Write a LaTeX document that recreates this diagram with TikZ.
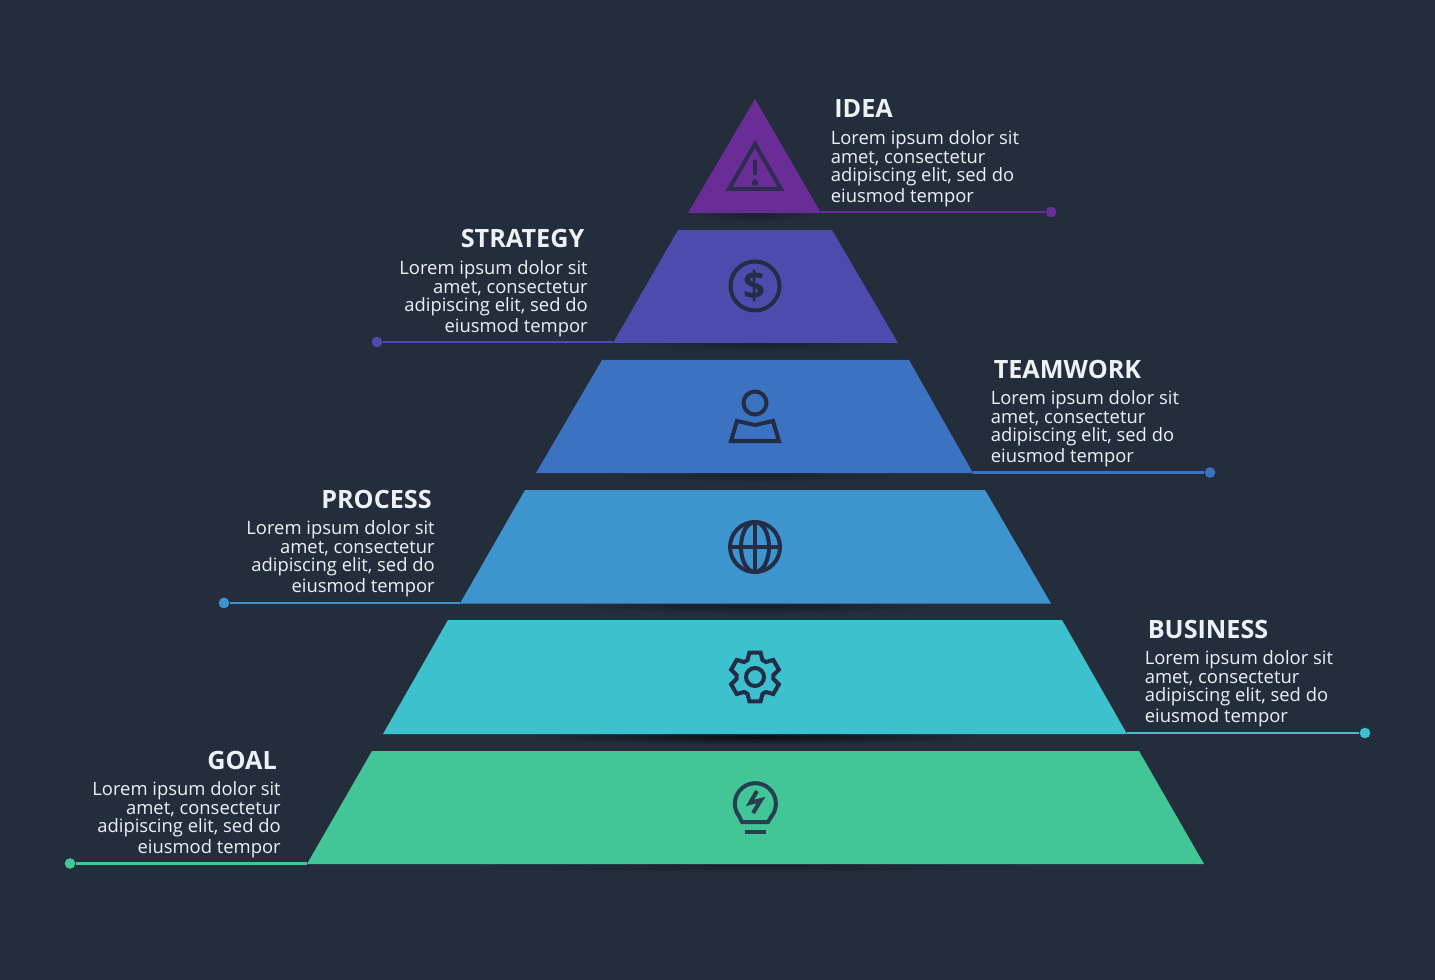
\documentclass[tikz,border=0pt]{standalone}
\usepackage{fontspec}
\setmainfont{Open Sans}
\definecolor{bgc}{HTML}{232D3C}
\definecolor{iconc}{HTML}{232D45}
\definecolor{txtc}{HTML}{EEF1F5}
\definecolor{c1}{HTML}{6A2D98}
\definecolor{c2}{HTML}{4E4BAE}
\definecolor{c3}{HTML}{3B72C2}
\definecolor{c4}{HTML}{3E94CE}
\definecolor{c5}{HTML}{3DC1CF}
\definecolor{c6}{HTML}{42C597}
\tikzset{
  x=0.75pt,y=-0.75pt,
  ttl/.style={text=txtc,inner sep=0pt,font=\fontsize{18.9pt}{22pt}\selectfont\bfseries},
  bodyl/.style={text=txtc,inner sep=0pt,align=left,anchor=north west,font=\fontsize{13.8pt}{13.8pt}\selectfont},
  bodyr/.style={text=txtc,inner sep=0pt,align=right,anchor=north east,font=\fontsize{13.8pt}{13.8pt}\selectfont},
  dotn/.style={circle,inner sep=0pt,minimum size=8pt},
  linkl/.style={line width=2.2pt},
  icon/.style={draw=#1,line width=3pt,line join=miter},
  sh/.style={inner color=black!75!bgc,outer color=bgc,draw=none},
}
\newcommand{\lorem}{Lorem ipsum dolor sit\\amet, consectetur\\adipiscing elit, sed do\\[2.2pt]eiusmod tempor}
\begin{document}
\begin{tikzpicture}
\fill[bgc] (0,0) rectangle (1435,980);
\useasboundingbox (0,0) rectangle (1435,980);
% soft shadows
\foreach \y/\w/\a in {221/60/0.35,351/120/0.3,481/150/0.3,612/190/0.45,743/230/0.9,872/280/0.35}{
  \begin{scope}
  \clip (0,\y-9) rectangle (1435,\y+9);
  \shade[sh,opacity=\a] (755,\y-6) ellipse [x radius=\w,y radius=7];
  \end{scope}
}
% layers
\coordinate (i1) at (821,213);
\coordinate (s1) at (613,343);
\coordinate (t1) at (973,473);
\coordinate (p1) at (460,603.5);
\coordinate (b1) at (1127,734);
\coordinate (g1) at (307,864);
\fill[c1] (755,99) -- (i1) -- (688,213) -- cycle;
\fill[c2] (678,230) -- (832,230) -- (898,343) -- (s1) -- cycle;
\fill[c3] (602,360) -- (909,360) -- (t1) -- (536,473) -- cycle;
\fill[c4] (525,490) -- (985,490) -- (1051,603.5) -- (p1) -- cycle;
\fill[c5] (448,620) -- (1062,620) -- (b1) -- (383,734) -- cycle;
\fill[c6] (372,751) -- (1139,751) -- (1204,864) -- (g1) -- cycle;
% connectors
\node[dotn,fill=c1] (id) at (1051,212) {};
\node[dotn,fill=c2] (sd) at (377,342) {};
\node[dotn,fill=c3] (td) at (1210,472.5) {};
\node[dotn,fill=c4] (pd) at (224,603) {};
\node[dotn,fill=c5] (bd) at (1365,733) {};
\node[dotn,fill=c6] (gd) at (70,863.5) {};
\draw[linkl,c1] (i1 |- id) -- (id);
\draw[linkl,c2] (s1 |- sd) -- (sd);
\draw[linkl,c3] (t1 |- td) -- (td);
\draw[linkl,c4] (p1 |- pd) -- (pd);
\draw[linkl,c5] (b1 |- bd) -- (bd);
\draw[linkl,c6] (g1 |- gd) -- (gd);
% titles
\node[ttl,anchor=base west] (ti) at (834,117.5) {IDEA};
\node[ttl,anchor=base east] (ts) at (584.5,247.5) {STRATEGY};
\node[ttl,anchor=base west] (tt) at (993.5,378.5) {TEAMWORK};
\node[ttl,anchor=base east] (tp) at (432,508.5) {PROCESS};
\node[ttl,anchor=base west] (tb) at (1147.5,638.5) {BUSINESS};
\node[ttl,anchor=base east] (tg) at (277,769.5) {GOAL};
% bodies
\node[bodyl] (bi) at (830.5,130.5) {\lorem};
\node[bodyr] (bs) at (588,260.5) {\lorem};
\node[bodyl] (bt) at (990.5,390.5) {\lorem};
\node[bodyr] (bp) at (435,520.5) {\lorem};
\node[bodyl] (bb) at (1144.5,650.5) {\lorem};
\node[bodyr] (bg) at (281,781.5) {\lorem};
% icons: warning
\draw[icon=iconc!85!c1] (755,144) -- (781,189) -- (729,189) -- cycle;
\draw[iconc!85!c1,line width=3.6pt] (755,160) -- (755,175);
\fill[iconc!85!c1] (755,182.5) circle[radius=3.4];
% dollar
\draw[icon=iconc] (755,286) circle[radius=24.5];
\node[text=iconc,inner sep=0pt,font=\fontsize{29pt}{30pt}\selectfont\bfseries] (dollar) at (755,286) {\$};
% person
\draw[icon=iconc] (755,403) circle[radius=11.5];
\draw[icon=iconc] (737,421) -- (755,425) -- (773,421) -- (779,441) -- (731,441) -- cycle;
% globe
\draw[icon=iconc] (755,547) circle[radius=25];
\draw[icon=iconc] (755,547) ellipse[x radius=14,y radius=25];
\draw[icon=iconc] (755,522) -- (755,572) (730,547) -- (780,547);
% gear
\begin{scope}[shift={(755,677)}]
\draw[icon=iconc] (0,0) circle[radius=9];
\draw[icon=iconc] (66:18.5) \foreach \k in {0,...,5}{
  -- ({66+60*\k}:18.5) -- ({77+60*\k}:25) -- ({103+60*\k}:25) -- ({114+60*\k}:18.5)
} -- cycle;
\end{scope}
% bulb
\draw[icon=iconc!88!c6] (742,822) -- (739,816) arc[start angle=143,end angle=397,radius=20.5] -- (768,822) -- cycle;
\draw[iconc!88!c6,line width=3pt] (745,832) -- (766,832);
\draw[iconc!88!c6,line width=3pt,line join=miter] (757,791) -- (750,803) -- (761,800) -- (753,813);
\end{tikzpicture}
\end{document}
